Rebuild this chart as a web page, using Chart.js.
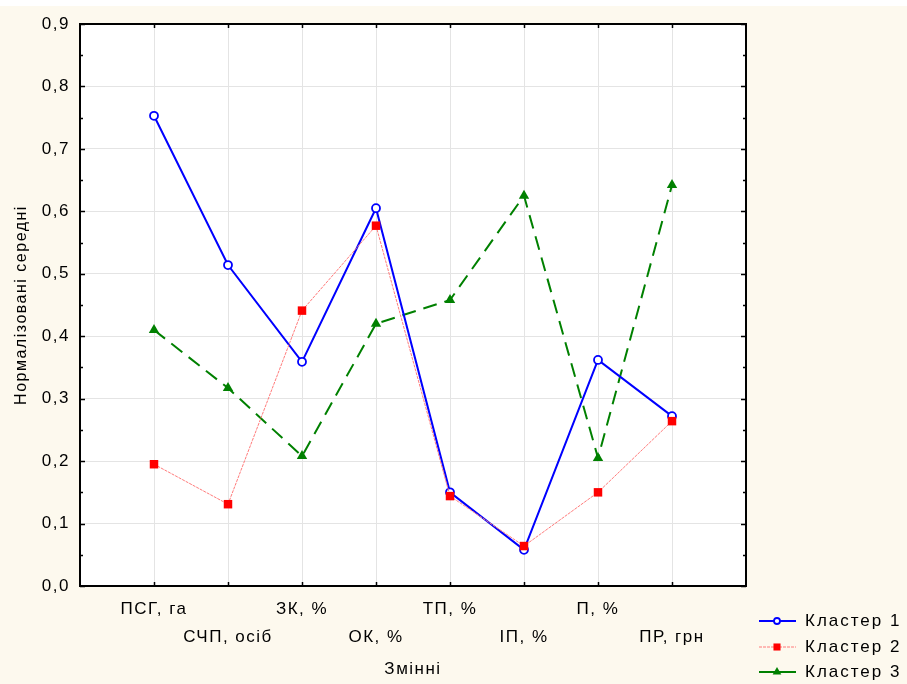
<!DOCTYPE html>
<html>
<head>
<meta charset="utf-8">
<script src="https://cdn.jsdelivr.net/npm/chart.js@4"></script>
<style>
  html, body { margin: 0; padding: 0; background: #fff; }
  #wrap { width: 907px; height: 684px; }
</style>
</head>
<body>
<div id="wrap"><canvas id="chart" width="907" height="684"></canvas></div>
<script>
const variables = ['ПСГ, га', 'СЧП, осіб', 'ЗК, %', 'ОК, %', 'ТП, %', 'ІП, %', 'П, %', 'ПР, грн'];
const cluster1 = [0.753, 0.514, 0.359, 0.605, 0.150, 0.058, 0.362, 0.272];
const cluster2 = [0.195, 0.131, 0.441, 0.577, 0.144, 0.064, 0.150, 0.264];
const cluster3 = [0.410, 0.317, 0.208, 0.420, 0.458, 0.625, 0.205, 0.642];
const seriesNames = ['Кластер 1', 'Кластер 2', 'Кластер 3'];
const yTicks = [0, 0.1, 0.2, 0.3, 0.4, 0.5, 0.6, 0.7, 0.8, 0.9];

const FONT = "'Liberation Sans', Arial, sans-serif";

function toPoints(arr) {
    return arr.map((v, i) => ({ x: i + 1, y: v }));
}

// cream page, white plot area
const backdrop = {
    id: 'backdrop',
    beforeDraw(chart) {
        const { ctx, chartArea: a } = chart;
        ctx.save();
        ctx.fillStyle = '#fff';
        ctx.fillRect(0, 0, chart.width, chart.height);
        ctx.fillStyle = '#fdf9ee';
        ctx.fillRect(0, 6, chart.width, chart.height - 6);
        ctx.fillStyle = '#fff';
        ctx.fillRect(a.left, a.top, a.right - a.left, a.bottom - a.top);
        ctx.restore();
        ctx.letterSpacing = '1.5px';
    }
};

// black frame with inward ticks on all four sides
const frame = {
    id: 'frame',
    afterDraw(chart) {
        const { ctx, chartArea: a, scales } = chart;
        ctx.save();
        ctx.strokeStyle = '#000';
        ctx.lineWidth = 1.5;
        ctx.beginPath();
        for (let i = 0; i < yTicks.length * 2 - 1; i++) {
            const v = i * 0.05;
            const y = Math.round(scales.y.getPixelForValue(v)) + 0.5;
            const len = i % 2 === 0 ? 5 : 3;
            ctx.moveTo(a.left, y); ctx.lineTo(a.left + len, y);
            ctx.moveTo(a.right, y); ctx.lineTo(a.right - len, y);
        }
        for (let i = 1; i <= variables.length; i++) {
            const x = Math.round(scales.x.getPixelForValue(i)) + 0.5;
            ctx.moveTo(x, a.bottom); ctx.lineTo(x, a.bottom - 4);
            ctx.moveTo(x, a.top); ctx.lineTo(x, a.top + 4);
        }
        ctx.stroke();
        ctx.lineWidth = 2;
        ctx.strokeRect(a.left, a.top, a.right - a.left, a.bottom - a.top);
        ctx.restore();
    }
};

// legend: line sample with marker, bottom right
const legendBox = {
    id: 'legendBox',
    afterDraw(chart) {
        const { ctx } = chart;
        const rows = [621, 647, 672];
        ctx.save();
        chart.data.datasets.forEach((ds, i) => {
            const y = rows[i];
            ctx.strokeStyle = ds.borderColor;
            ctx.lineWidth = ds.borderWidth;
            ctx.setLineDash(ds.legendDash || []);
            ctx.beginPath();
            ctx.moveTo(759, y); ctx.lineTo(796, y);
            ctx.stroke();
            ctx.setLineDash([]);
            ctx.fillStyle = ds.pointBackgroundColor;
            ctx.strokeStyle = ds.pointBorderColor;
            ctx.lineWidth = ds.pointBorderWidth;
            Chart.helpers.drawPoint(ctx, {
                pointStyle: ds.pointStyle, radius: ds.pointRadius - 1,
                rotation: 0, borderWidth: ds.pointBorderWidth
            }, 777, y);
            ctx.fillStyle = '#000';
            ctx.font = '17px ' + FONT;
            ctx.letterSpacing = '2px';
            ctx.textBaseline = 'middle';
            ctx.textAlign = 'left';
            ctx.fillText(seriesNames[i], 805, y);
        });
        ctx.restore();
    }
};

new Chart(document.getElementById('chart'), {
    type: 'line',
    data: {
        datasets: [
            {
                label: seriesNames[0],
                data: toPoints(cluster1),
                borderColor: '#0000ff',
                borderWidth: 2,
                pointStyle: 'circle',
                pointRadius: 4,
                pointBorderWidth: 1.8,
                pointBorderColor: '#0000ff',
                pointBackgroundColor: '#ffffff',
                order: 1
            },
            {
                label: seriesNames[1],
                data: toPoints(cluster2),
                borderColor: '#ff7b7b',
                borderWidth: 1,
                borderDash: [3, 1],
                legendDash: [3, 1],
                pointStyle: 'rect',
                pointRadius: 6,
                pointBorderWidth: 0,
                pointBorderColor: '#ff0000',
                pointBackgroundColor: '#ff0000',
                order: 0
            },
            {
                label: seriesNames[2],
                data: toPoints(cluster3),
                borderColor: '#008000',
                borderWidth: 2,
                borderDash: [14, 8],
                legendDash: [],
                pointStyle: 'triangle',
                pointRadius: 6,
                pointBorderWidth: 0,
                pointBorderColor: '#008000',
                pointBackgroundColor: '#008000',
                order: 2
            }
        ]
    },
    options: {
        responsive: false,
        animation: false,
        layout: { padding: { left: 0, right: 161, top: 24, bottom: 0 } },
        plugins: { legend: { display: false }, tooltip: { enabled: false } },
        scales: {
            x: {
                type: 'linear',
                min: 0,
                max: variables.length + 1,
                afterFit(s) { s.height = 98; },
                afterBuildTicks(s) {
                    s.ticks = [];
                    for (let i = 0; i <= variables.length + 1; i++) s.ticks.push({ value: i });
                },
                grid: { color: '#e4e4e4', drawTicks: false },
                border: { display: false },
                ticks: {
                    autoSkip: false,
                    maxRotation: 0,
                    padding: 9,
                    color: '#000',
                    font: { family: FONT, size: 17, lineHeight: 1.65 },
                    callback(v) {
                        const name = variables[v - 1];
                        if (!name) return '';
                        return v % 2 === 1 ? [name, ''] : ['', name];
                    }
                },
                title: {
                    display: true,
                    text: 'Змінні',
                    color: '#000',
                    font: { family: FONT, size: 17 },
                    padding: { top: 0, bottom: 4 }
                }
            },
            y: {
                min: 0,
                max: 0.9,
                afterFit(s) { s.width = 80; },
                afterBuildTicks(s) { s.ticks = yTicks.map(v => ({ value: v })); },
                grid: { color: '#e4e4e4', drawTicks: false },
                border: { display: false },
                ticks: {
                    padding: 10,
                    color: '#000',
                    font: { family: FONT, size: 17 },
                    callback: v => v.toFixed(1).replace('.', ',')
                },
                title: {
                    display: true,
                    text: 'Нормалізовані середні',
                    color: '#000',
                    font: { family: FONT, size: 16 },
                    padding: { top: 12, bottom: 0 }
                }
            }
        }
    },
    plugins: [backdrop, frame, legendBox]
});
</script>
</body>
</html>
